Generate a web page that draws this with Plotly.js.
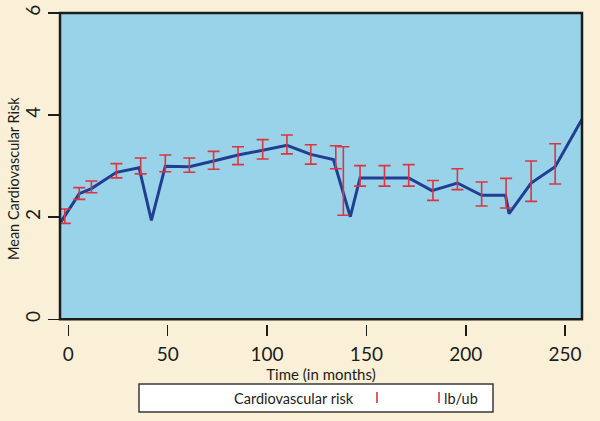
<!DOCTYPE html>
<html>
<head>
<meta charset="utf-8">
<script src="https://cdn.plot.ly/plotly-3.0.1.min.js"></script>
<style>
  html, body { margin: 0; padding: 0; background: #FAF0D8; }
  #chart { width: 600px; height: 421px; }
</style>
</head>
<body>
<div id="chart"></div>
<script>
// Mean risk line (months, value)
const lineMonths = [-3.7, 5.5, 11.6, 24.2, 35.6, 41.8, 48.8, 60.9, 73.1, 85.4, 97.8, 110, 122,
                    133.4, 141.9, 146.8, 159.1, 171.3, 183, 195.8, 208, 220, 221.8, 232.9, 245, 258.5];
const lineRisk = [1.91, 2.46, 2.56, 2.88, 2.97, 1.94, 3.00, 2.99, 3.10, 3.22, 3.31, 3.41, 3.23,
                  3.13, 2.01, 2.77, 2.77, 2.77, 2.52, 2.67, 2.43, 2.43, 2.07, 2.67, 2.99, 3.92];

// Confidence bounds (rcap)
const capMonths = [-1.8, 5.5, 11.6, 24.2, 36.4, 48.8, 60.9, 73.1, 85.4, 97.8, 110, 122,
                   134.6, 138.4, 146.8, 159.1, 171.3, 183.5, 195.8, 208, 220.3, 232.9, 245];
const lowerBound = [1.88, 2.35, 2.48, 2.77, 2.85, 2.89, 2.88, 2.94, 3.03, 3.14, 3.24, 3.04,
                    2.95, 2.04, 2.61, 2.61, 2.61, 2.33, 2.54, 2.22, 2.18, 2.31, 2.65];
const upperBound = [2.16, 2.58, 2.71, 3.05, 3.16, 3.22, 3.16, 3.29, 3.38, 3.52, 3.61, 3.42,
                    3.40, 3.38, 3.01, 3.01, 3.03, 2.72, 2.95, 2.69, 2.76, 3.10, 3.44];

const xTicks = [0, 50, 100, 150, 200, 250];
const yTicks = [0, 2, 4, 6];

const FONT = 'Lato, "Open Sans", sans-serif';
const INK = '#1c1c1c';

// pixel -> paper helpers (plot area 60..582 wide, paper y from 324 up to 13)
const L = 60, R = 18, T = 13, B = 97;
function px(x) { return (x - L) / (600 - L - R); }
function py(y) { return (421 - B - y) / (421 - B - T); }

const lineTrace = {
    x: lineMonths,
    y: lineRisk,
    mode: 'lines',
    line: { color: '#213F92', width: 3 },
    hoverinfo: 'skip',
    showlegend: false
};

const capTrace = {
    x: capMonths,
    y: lowerBound,
    mode: 'markers',
    marker: { size: 1, opacity: 0 },
    error_y: {
        type: 'data',
        symmetric: false,
        array: upperBound.map((u, i) => u - lowerBound[i]),
        arrayminus: lowerBound.map(() => 0),
        color: '#DC3440',
        thickness: 1.6,
        width: 6
    },
    hoverinfo: 'skip',
    showlegend: false
};

const layout = {
    width: 600,
    height: 421,
    margin: { l: L, r: R, t: T, b: B },
    paper_bgcolor: '#FAF0D8',
    plot_bgcolor: '#99D3E9',
    font: { family: FONT, color: INK },
    showlegend: false,
    xaxis: {
        range: [-4.2, 258.5],
        tickvals: xTicks,
        ticks: 'outside',
        ticklen: 11,
        tickwidth: 1.5,
        tickcolor: INK,
        showgrid: false,
        zeroline: false,
        showline: false,
        anchor: 'free',
        position: 0,
        ticklabelstandoff: 2,
        tickfont: { size: 19, color: INK },
        title: { text: 'Time (in months)', font: { size: 15, color: INK }, standoff: 0 }
    },
    yaxis: {
        domain: [0.015, 1],
        range: [0, 6],
        tickvals: yTicks,
        tickangle: -90,
        ticks: 'outside',
        ticklen: 11,
        tickwidth: 1.5,
        tickcolor: INK,
        showgrid: false,
        zeroline: false,
        showline: false,
        tickfont: { size: 19, color: INK }
    },
    shapes: [
        // plot frame
        { type: 'rect', xref: 'x domain', yref: 'y domain', x0: 0, x1: 1, y0: 0, y1: 1,
          line: { color: INK, width: 2.5 }, layer: 'above' },
        // legend box
        { type: 'rect', xref: 'paper', yref: 'paper', x0: px(139), x1: px(493), y0: py(412), y1: py(384),
          fillcolor: '#FFFFFF', line: { color: '#3a3a3a', width: 1.5 } },
        { type: 'line', xref: 'paper', yref: 'paper', x0: px(377), x1: px(377), y0: py(403), y1: py(392),
          line: { color: '#DC3440', width: 1.6 } },
        { type: 'line', xref: 'paper', yref: 'paper', x0: px(439), x1: px(439), y0: py(403), y1: py(392),
          line: { color: '#DC3440', width: 1.6 } }
    ],
    annotations: [
        // y axis title
        { xref: 'paper', yref: 'paper', x: px(13), y: py(179), xanchor: 'center', yanchor: 'middle',
          textangle: -90, text: 'Mean Cardiovascular Risk', showarrow: false,
          font: { size: 14.5, color: INK } },
        // legend labels
        { xref: 'paper', yref: 'paper', x: px(356), y: py(398), xanchor: 'right', yanchor: 'middle',
          text: 'Cardiovascular risk', showarrow: false, font: { size: 14.5, color: INK } },
        { xref: 'paper', yref: 'paper', x: px(442), y: py(398), xanchor: 'left', yanchor: 'middle',
          text: 'lb/ub', showarrow: false, font: { size: 14.5, color: INK } }
    ]
};

Plotly.newPlot('chart', [lineTrace, capTrace], layout, { displayModeBar: false, staticPlot: true });
</script>
</body>
</html>
